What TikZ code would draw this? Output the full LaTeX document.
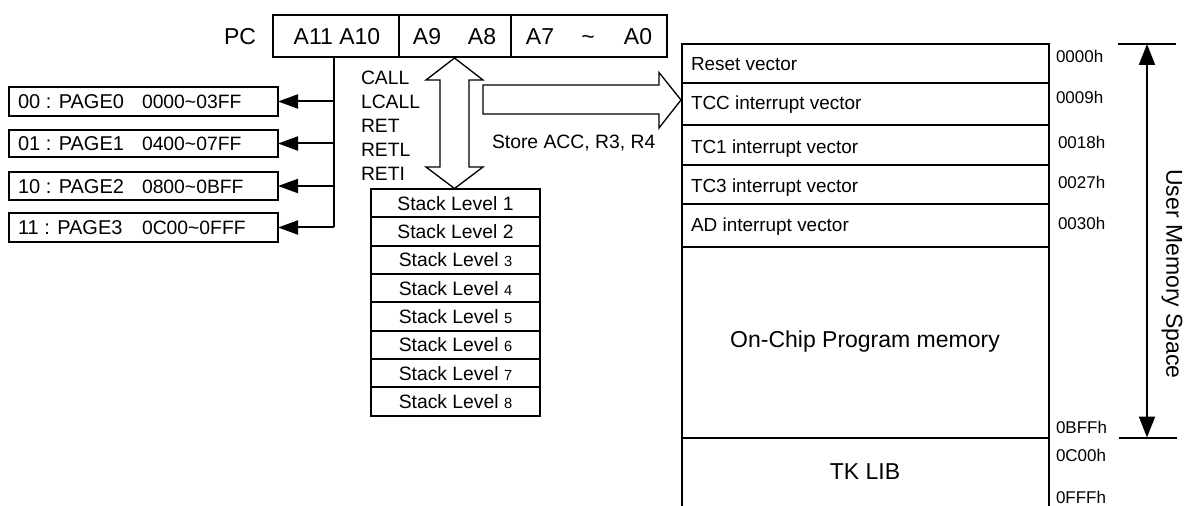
\documentclass[tikz,border=0pt]{standalone}
\usepackage{fontspec}
\setmainfont{Liberation Sans}
\usetikzlibrary{arrows.meta}
\newcommand\pxu{0.75pt}
\newcommand\smallnum{\fontsize{11pt}{13pt}\selectfont}
\begin{document}
\begin{tikzpicture}[x=0.75pt,y=-0.75pt,
  box/.style={draw, line width=1.5pt, inner sep=0pt, outer sep=0pt},
  big/.style={font=\fontsize{17.25pt}{20pt}\selectfont},
  mid/.style={font=\fontsize{14.5pt}{18pt}\selectfont},
  pgname/.style={font=\fontsize{15pt}{18pt}\selectfont},
  memtxt/.style={font=\fontsize{14.2pt}{18pt}\selectfont},
  small/.style={font=\fontsize{12.75pt}{15pt}\selectfont},
  plain/.style={inner sep=0pt, outer sep=0pt},
  fat/.style={draw, line width=1pt, fill=white, line join=miter},
  wire/.style={line width=1.5pt},
  feed/.style={line width=1.5pt, -{Triangle[length=15pt,width=10.5pt]}},
  dim/.style={line width=1.5pt, {Triangle[length=15.75pt,width=12pt]}-{Triangle[length=15.75pt,width=12pt]}},
]
\useasboundingbox (0,0) rectangle (1189,506);

% PC register
\node[big, plain, anchor=base] (pc) at (240,44.5) {PC};
\node[box, minimum width=126*\pxu, minimum height=42*\pxu] (pcA) at (336,36) {};
\node[box, minimum width=112*\pxu, minimum height=42*\pxu] (pcB) at (455,36) {};
\node[box, minimum width=156*\pxu, minimum height=42*\pxu] (pcC) at (589,36) {};
\node[big, plain, anchor=base] (tA) at (337,44.5) {A11 A10};
\node[big, plain, anchor=base] (tA9) at (427,44.5) {A9};
\node[big, plain, anchor=base] (tA8) at (482,44.5) {A8};
\node[big, plain, anchor=base] (tA7) at (540,44.5) {A7};
\node[big, plain, anchor=base] (tTl) at (588,45) {\textasciitilde};
\node[big, plain, anchor=base] (tA0) at (638,44.5) {A0};

% pages
\node[box, minimum width=269*\pxu, minimum height=29*\pxu] (pg1) at (143.5,101.5) {};
\node[box, minimum width=269*\pxu, minimum height=27*\pxu] (pg2) at (143.5,143.5) {};
\node[box, minimum width=269*\pxu, minimum height=28*\pxu] (pg3) at (143.5,186) {};
\node[box, minimum width=269*\pxu, minimum height=29*\pxu] (pg4) at (143.5,227.5) {};
\node[pgname, plain, anchor=base west] (p1a) at (18,108.6) {00 : PAGE0};
\node[mid, plain, anchor=base west] (p1b) at (142,108.6) {0000\textasciitilde03FF};
\node[pgname, plain, anchor=base west] (p2a) at (18,150.6) {01 : PAGE1};
\node[mid, plain, anchor=base west] (p2b) at (142,150.6) {0400\textasciitilde07FF};
\node[pgname, plain, anchor=base west] (p3a) at (18,193.1) {10 : PAGE2};
\node[mid, plain, anchor=base west] (p3b) at (142,193.1) {0800\textasciitilde0BFF};
\node[pgname, plain, anchor=base west] (p4a) at (18,234.6) {11 : PAGE3};
\node[mid, plain, anchor=base west] (p4b) at (142,234.6) {0C00\textasciitilde0FFF};

\coordinate (trunkTop) at (334,57);
\draw[wire] (trunkTop) -- (trunkTop |- pg4.east);
\draw[feed] (trunkTop |- pg1.east) -- (pg1.east);
\draw[feed] (trunkTop |- pg2.east) -- (pg2.east);
\draw[feed] (trunkTop |- pg3.east) -- (pg3.east);
\draw[feed] (trunkTop |- pg4.east) -- (pg4.east);

% instructions
\node[plain, anchor=west, align=left, font=\fontsize{14.5pt}{18pt}\selectfont] (ins) at (361,125.5) {CALL\\LCALL\\RET\\RETL\\RETI};

% stack
\node[box, minimum width=169*\pxu, minimum height=28.35*\pxu, mid, anchor=north] (s1) at (455.5,189) {Stack Level 1};
\node[box, minimum width=169*\pxu, minimum height=28.35*\pxu, mid, anchor=north] (s2) at (s1.south) {Stack Level 2};
\node[box, minimum width=169*\pxu, minimum height=28.35*\pxu, mid, anchor=north] (s3) at (s2.south) {Stack Level {\smallnum 3}};
\node[box, minimum width=169*\pxu, minimum height=28.35*\pxu, mid, anchor=north] (s4) at (s3.south) {Stack Level {\smallnum 4}};
\node[box, minimum width=169*\pxu, minimum height=28.35*\pxu, mid, anchor=north] (s5) at (s4.south) {Stack Level {\smallnum 5}};
\node[box, minimum width=169*\pxu, minimum height=28.35*\pxu, mid, anchor=north] (s6) at (s5.south) {Stack Level {\smallnum 6}};
\node[box, minimum width=169*\pxu, minimum height=28.35*\pxu, mid, anchor=north] (s7) at (s6.south) {Stack Level {\smallnum 7}};
\node[box, minimum width=169*\pxu, minimum height=28.35*\pxu, mid, anchor=north] (s8) at (s7.south) {Stack Level {\smallnum 8}};

% fat arrows
\draw[fat] (454.5,58) -- (483,80) -- (469,80) -- (469,167) -- (483,167) -- (454.5,188.5)
  -- (426,167) -- (440,167) -- (440,80) -- (426,80) -- cycle;
\draw[fat] (483,85) -- (659,85) -- (659,72.5) -- (681,100) -- (659,128) -- (659,114) -- (483,114) -- cycle;
\node[mid, plain, anchor=base west] (store) at (492,148.9) {Store ACC, R3, R4};

% memory map
\node[box, minimum width=367*\pxu, minimum height=39.5*\pxu] (m0) at (865.5,63.75) {};
\node[box, minimum width=367*\pxu, minimum height=41.5*\pxu] (m1) at (865.5,104.25) {};
\node[box, minimum width=367*\pxu, minimum height=40*\pxu] (m2) at (865.5,145) {};
\node[box, minimum width=367*\pxu, minimum height=39.5*\pxu] (m3) at (865.5,184.75) {};
\node[box, minimum width=367*\pxu, minimum height=42*\pxu] (m4) at (865.5,225.5) {};
\node[box, minimum width=367*\pxu, minimum height=191.5*\pxu] (prog) at (865.5,342.25) {};
\node[plain, minimum width=367*\pxu, minimum height=70*\pxu] (lib) at (865.5,473) {};
\draw[wire] (lib.north west) -- (lib.south west);
\draw[wire] (lib.north east) -- (lib.south east);

\node[memtxt, plain, anchor=base west] (t0) at (691,70.7) {Reset vector};
\node[memtxt, plain, anchor=base west] (t1) at (691,110) {TCC interrupt vector};
\node[memtxt, plain, anchor=base west] (t2) at (691,154) {TC1 interrupt vector};
\node[memtxt, plain, anchor=base west] (t3) at (691,192.3) {TC3 interrupt vector};
\node[memtxt, plain, anchor=base west] (t4) at (691,231.7) {AD interrupt vector};
\node[big, plain] (tprog) at (865,342) {On-Chip Program memory};
\node[big, plain] (tlib) at (865,472) {TK LIB};

\node[small, plain, anchor=base west] (a0) at (1056,63) {0000h};
\node[small, plain, anchor=base west] (a1) at (1056,104) {0009h};
\node[small, plain, anchor=base west] (a2) at (1058,149) {0018h};
\node[small, plain, anchor=base west] (a3) at (1058,189) {0027h};
\node[small, plain, anchor=base west] (a4) at (1058,229) {0030h};
\node[small, plain, anchor=base west] (a5) at (1056,433) {0BFFh};
\node[small, plain, anchor=base west] (a6) at (1056,461) {0C00h};
\node[small, plain, anchor=base west] (a7) at (1056,503) {0FFFh};

% dimension
\coordinate (dimTop) at (1147,44);
\coordinate (dimBot) at (1147,437.5);
\coordinate (tkTL) at (1118,44);
\coordinate (tkTR) at (1176,44);
\coordinate (tkBL) at (1119,437.5);
\coordinate (tkBR) at (1177,437.5);
\draw[wire] (tkTL) -- (tkTR);
\draw[wire] (tkBL) -- (tkBR);
\draw[dim] (dimTop) -- (dimBot);
\node[big, plain, rotate=-90] (ums) at (1172,274) {User Memory Space};
\end{tikzpicture}
\end{document}
